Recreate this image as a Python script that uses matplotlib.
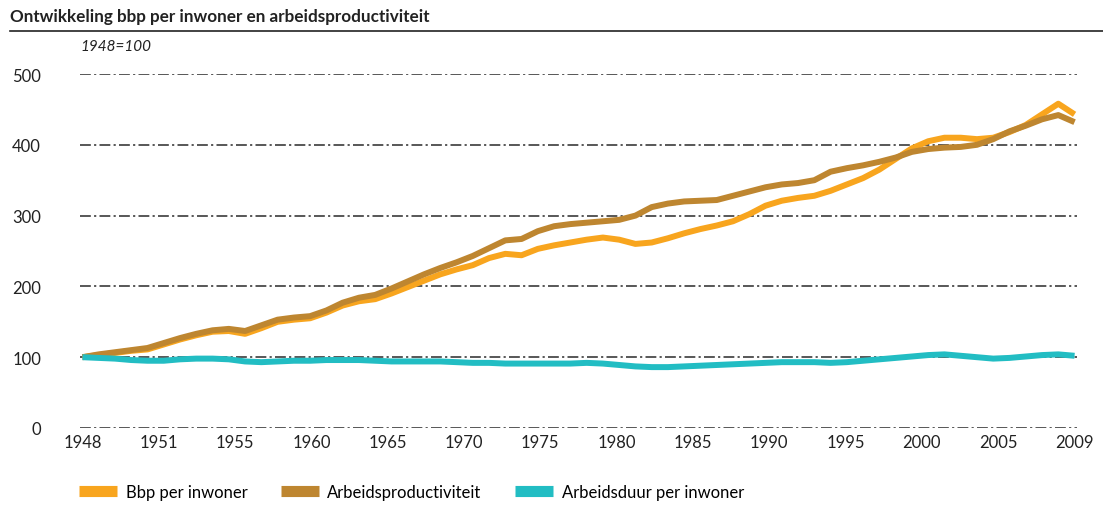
import matplotlib
matplotlib.use('Agg')
import numpy as np
import matplotlib.pyplot as plt
from matplotlib.lines import Line2D

years = list(range(1948, 2010))
tick_labels = ['1948', '1951', '1955', '1960', '1965', '1970', '1975',
               '1980', '1985', '1990', '1995', '2000', '2005', '2009']

bbp_per_inwoner = [
    100, 103, 106, 109, 111, 118, 125, 131, 136, 137,
    133, 141, 150, 153, 155, 163, 173, 179, 182, 190,
    199, 208, 217, 224, 230, 240, 246, 244, 253, 258,
    262, 266, 269, 266, 260, 262, 268, 275, 281, 286,
    292, 302, 314, 321, 325, 328, 335, 344, 353, 365,
    380, 395, 405, 410, 410, 408, 410, 418, 428, 443,
    458, 443]
arbeidsproductiviteit = [
    100, 104, 107, 110, 113, 120, 127, 133, 138, 140,
    137, 145, 153, 156, 158, 166, 177, 184, 188, 197,
    207, 217, 226, 234, 243, 254, 265, 267, 278, 285,
    288, 290, 292, 294, 300, 312, 317, 320, 321, 322,
    328, 334, 340, 344, 346, 350, 362, 367, 371, 376,
    382, 390, 394, 396, 397, 400, 408, 419, 427, 436,
    442, 432]
arbeidsduur_per_inwoner = [
    100, 99, 98, 96, 95, 95, 97, 98, 98, 97,
    94, 93, 94, 95, 95, 96, 96, 96, 95, 94,
    94, 94, 94, 93, 92, 92, 91, 91, 91, 91,
    91, 92, 91, 89, 87, 86, 86, 87, 88, 89,
    90, 91, 92, 93, 93, 93, 92, 93, 95, 97,
    99, 101, 103, 104, 102, 100, 98, 99, 101, 103,
    104, 102]

series = [
    ('Bbp per inwoner', bbp_per_inwoner, '#F8A51E'),
    ('Arbeidsproductiviteit', arbeidsproductiviteit, '#BE8630'),
    ('Arbeidsduur per inwoner', arbeidsduur_per_inwoner, '#22BDC3'),
]

plt.rcParams['font.family'] = ['Lato', 'DejaVu Sans']

fig = plt.figure(figsize=(11.03, 5.06), dpi=100, facecolor='white')
ax = fig.add_axes([80 / 1103, 1 - 429 / 506, 997 / 1103, 354 / 506])

x = np.arange(len(years))
for y in range(0, 501, 100):
    ax.axhline(y, color='#4a4a4a', lw=1.3, linestyle=(0, (6, 1.8, 1.2, 1.8)),
               zorder=1)

for label, vals, col in series:
    ax.plot(x, vals, color=col, lw=4.3, solid_joinstyle='round',
            solid_capstyle='butt', label=label, zorder=3)

ax.set_xlim(-0.15, len(years) - 1 + 0.15)
ax.set_ylim(0, 500)
ax.set_xticks(np.linspace(0, len(years) - 1, len(tick_labels)))
ax.set_xticklabels(tick_labels)
ax.set_yticks(range(0, 501, 100))
for s in ax.spines.values():
    s.set_visible(False)
ax.tick_params(axis='both', length=0, labelsize=12, colors='#222222')
ax.tick_params(axis='x', pad=4)
ax.tick_params(axis='y', pad=28)
for t in ax.get_yticklabels():
    t.set_horizontalalignment('right')

fig.text(10 / 1103, 1 - 17 / 506, 'Ontwikkeling bbp per inwoner en arbeidsproductiviteit',
         fontsize=12.3, fontweight='bold', va='center', ha='left', color='#222222')
fig.add_artist(Line2D([10 / 1103, 1.0], [1 - 32 / 506, 1 - 32 / 506],
                      color='#222222', lw=1.2))
fig.text(80 / 1103, 1 - 47 / 506, '1948=100', fontsize=11, style='italic',
         va='center', ha='left', color='#222222')

handles = [Line2D([], [], color=c, lw=8, solid_capstyle='butt') for _, _, c in series]
fig.legend(handles, [s[0] for s in series], loc='center left',
           bbox_to_anchor=(64 / 1103, 1 - 493 / 506), ncol=3, frameon=False,
           fontsize=12, handlelength=2.3, handletextpad=0.5, columnspacing=2.0)

fig.savefig('out.png', dpi=100, facecolor='white')
